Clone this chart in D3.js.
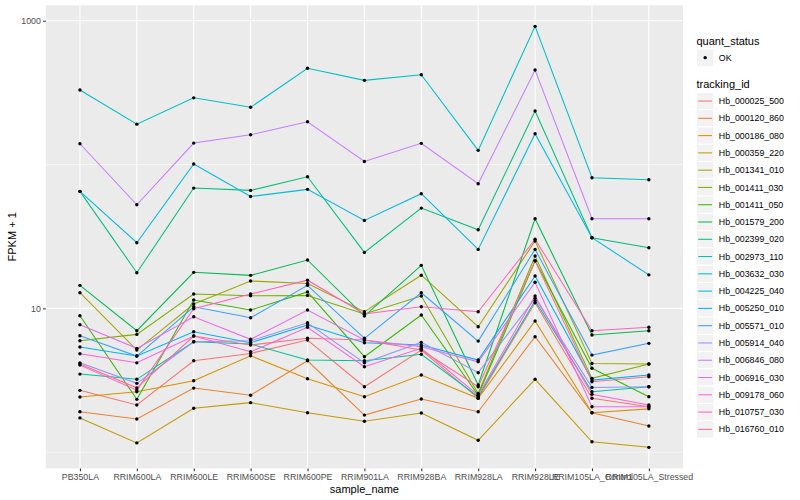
<!DOCTYPE html>
<html><head><meta charset="utf-8">
<script src="https://cdn.jsdelivr.net/npm/d3@7/dist/d3.min.js"></script>
<style>body{margin:0;background:#fff}svg{display:block}text{font-family:"Liberation Sans",Arial,Helvetica,sans-serif}</style>
</head><body><svg id="c" width="800" height="500"></svg>
<script>
const samples = ["PB350LA","RRIM600LA","RRIM600LE","RRIM600SE","RRIM600PE","RRIM901LA","RRIM928BA","RRIM928LA","RRIM928LE","RRIM105LA_Control","RRIM105LA_Stressed"];
const trackingIds = ["Hb_000025_500","Hb_000120_860","Hb_000186_080","Hb_000359_220","Hb_001341_010","Hb_001411_030","Hb_001411_050","Hb_001579_200","Hb_002399_020","Hb_002973_110","Hb_003632_030","Hb_004225_040","Hb_005250_010","Hb_005571_010","Hb_005914_040","Hb_006846_080","Hb_006916_030","Hb_009178_060","Hb_010757_030","Hb_016760_010"];
// FPKM + 1 per sample
const hb_000025_500 = [2.69,2.13,4.32,4.86,6.02,2.85,5.13,2.37,10.94,2.37,2.07];
const hb_000120_860 = [1.91,1.70,2.79,2.49,4.32,1.81,2.34,1.91,6.35,1.88,1.52];
const hb_000186_080 = [2.42,2.63,3.14,4.68,3.24,2.43,3.44,2.37,8.16,1.88,2.00];
const hb_000359_220 = [1.73,1.16,2.02,2.21,1.88,1.64,1.87,1.21,3.21,1.18,1.08];
const hb_001341_010 = [12.84,5.13,10.71,15.5,14.9,9.47,17.0,7.45,29.4,4.14,4.10];
const hb_001411_030 = [5.95,6.59,12.57,12.24,12.3,9.13,12.18,2.56,23.1,3.26,4.10];
const hb_001411_050 = [8.88,2.33,11.42,9.73,13.0,4.61,8.98,2.49,21.4,3.83,2.43];
const hb_001579_200 = [14.45,6.99,17.8,16.96,21.7,8.84,19.9,2.93,42.0,6.52,6.99];
const hb_002399_020 = [65.1,17.7,68.6,66.1,82.2,24.5,49.8,35.2,235.5,31.0,26.4];
const hb_002973_110 = [3.49,3.21,5.86,5.65,4.37,4.32,4.79,2.43,11.29,2.63,2.85];
const hb_003632_030 = [330,191,291,250,467,385,421,125.5,914,80.9,78.4];
const hb_004225_040 = [65.1,28.6,100.8,59.9,67.2,40.9,62.7,25.7,163.7,31.0,17.1];
const hb_005250_010 = [5.38,4.66,6.88,5.77,7.65,5.77,5.56,4.37,16.8,3.17,3.44];
const hb_005571_010 = [6.45,4.66,10.26,8.60,14.45,6.19,12.84,5.92,25.7,4.73,5.71];
const hb_005914_040 = [4.18,3.01,5.86,5.95,7.94,4.18,5.80,3.57,11.74,2.82,2.85];
const hb_006846_080 = [139.5,52.5,141,161,198.5,105,140.4,73.5,454,42,42];
const hb_006916_030 = [7.69,5.27,8.74,6.09,9.73,6.02,5.41,4.25,15.2,2.07,2.07];
const hb_009178_060 = [4.83,4.18,6.42,4.99,7.38,3.93,5.27,2.49,12.18,2.53,2.13];
const hb_010757_030 = [4.03,2.70,9.94,12.57,15.7,9.13,10.26,9.47,30.2,6.99,7.38];
const hb_016760_010 = [4.10,2.80,6.42,5.56,6.19,6.02,5.13,2.85,21.4,3.09,3.34];
const yTickValues = [10,1000];
const yTickLabels = ["10","1000"];
const yMinorValues = [1,100];

const seriesValues = [hb_000025_500,hb_000120_860,hb_000186_080,hb_000359_220,hb_001341_010,hb_001411_030,hb_001411_050,hb_001579_200,hb_002399_020,hb_002973_110,hb_003632_030,hb_004225_040,hb_005250_010,hb_005571_010,hb_005914_040,hb_006846_080,hb_006916_030,hb_009178_060,hb_010757_030,hb_016760_010];
const palette = ["#F8766D","#EA8331","#D89000","#C09B00","#A3A500","#7CAE00","#39B600","#00BB4E","#00BF7D","#00C1A3","#00BFC4","#00BAE0","#00B0F6","#35A2FF","#9590FF","#C77CFF","#E76BF3","#FA62DB","#FF62BC","#FF6C91"];

const series = trackingIds.map((id,i)=>({id, values: samples.map((s,j)=>({s, v: seriesValues[i][j]}))}));

const svg = d3.select("#c");
const P = {l:45.8, r:683, t:5.3, b:468.4};
const color = d3.scaleOrdinal().domain(trackingIds).range(palette);

const allV = seriesValues.flat();
const lmin = Math.log10(d3.min(allV)), lmax = Math.log10(d3.max(allV));
const ex = (lmax-lmin)*0.05;
const y = d3.scaleLog().domain([Math.pow(10,lmin-ex), Math.pow(10,lmax+ex)]).range([P.b,P.t]);
const x = d3.scalePoint().domain(samples).range([P.l,P.r]).padding(0.6);

svg.append("rect").attr("x",P.l).attr("y",P.t).attr("width",P.r-P.l).attr("height",P.b-P.t).attr("fill","#EBEBEB");
const g = svg.append("g");
g.selectAll(".ymin").data(yMinorValues).join("line").attr("x1",P.l).attr("x2",P.r)
 .attr("y1",d=>y(d)).attr("y2",d=>y(d)).attr("stroke","#fff").attr("stroke-width",0.55);
g.selectAll(".ymaj").data(yTickValues).join("line").attr("x1",P.l).attr("x2",P.r)
 .attr("y1",d=>y(d)).attr("y2",d=>y(d)).attr("stroke","#fff").attr("stroke-width",1.1);
g.selectAll(".xmaj").data(samples).join("line").attr("y1",P.t).attr("y2",P.b)
 .attr("x1",d=>x(d)).attr("x2",d=>x(d)).attr("stroke","#fff").attr("stroke-width",1.1);

const line = d3.line().x(d=>x(d.s)).y(d=>y(d.v));
svg.append("g").selectAll("path").data(series).join("path")
 .attr("d",d=>line(d.values)).attr("fill","none").attr("stroke",d=>color(d.id)).attr("stroke-width",1.05);
svg.append("g").selectAll("g").data(series).join("g").selectAll("circle").data(d=>d.values).join("circle")
 .attr("cx",d=>x(d.s)).attr("cy",d=>y(d.v)).attr("r",1.7).attr("fill","#000");

// axes
const yAxis = d3.axisLeft(y).tickValues(yTickValues).tickFormat((d,i)=>yTickLabels[i]).tickSize(2.75).tickPadding(2.2);
const ya = svg.append("g").attr("transform",`translate(${P.l},0)`).call(yAxis);
ya.select(".domain").remove();
ya.selectAll("line").attr("stroke","#333").attr("stroke-width",1.07);
ya.selectAll("text").attr("fill","#4D4D4D").style("font-size","8.8px");

const xAxis = d3.axisBottom(x).tickSize(2.75).tickPadding(2.2);
const xa = svg.append("g").attr("transform",`translate(0,${P.b})`).call(xAxis);
xa.select(".domain").remove();
xa.selectAll("line").attr("stroke","#333").attr("stroke-width",1.07);
xa.selectAll("text").attr("fill","#4D4D4D").style("font-size","8.8px");

svg.append("text").attr("x",(P.l+P.r)/2).attr("y",493).attr("text-anchor","middle").style("font-size","11px").attr("fill","#000").text("sample_name");
svg.append("text").attr("transform",`translate(15.5,${(P.t+P.b)/2}) rotate(-90)`).attr("text-anchor","middle").style("font-size","11px").attr("fill","#000").text("FPKM + 1");

// legend
const L = svg.append("g");
const lx = 696.5;
L.append("text").attr("x",lx).attr("y",44.5).style("font-size","11px").text("quant_status");
L.append("rect").attr("x",lx).attr("y",49).attr("width",17.3).attr("height",17.3).attr("fill","#F2F2F2").attr("stroke","#fff");
L.append("circle").attr("cx",lx+8.65).attr("cy",49+8.65).attr("r",1.7).attr("fill","#000");
L.append("text").attr("x",lx+22.3).attr("y",49+8.65+3.1).style("font-size","8.8px").text("OK");
L.append("text").attr("x",lx).attr("y",87.5).style("font-size","11px").text("tracking_id");
const items = L.selectAll(".it").data(trackingIds).join("g").attr("transform",(d,i)=>`translate(${lx},${92.4+i*17.28})`);
items.append("rect").attr("width",17.28).attr("height",17.28).attr("fill","#F2F2F2").attr("stroke","#fff");
items.append("line").attr("x1",1.7).attr("x2",15.6).attr("y1",8.64).attr("y2",8.64).attr("stroke",d=>color(d)).attr("stroke-width",1.05);
items.append("text").attr("x",22.3).attr("y",8.64+3.1).style("font-size","8.8px").text(d=>d);
</script></body></html>
